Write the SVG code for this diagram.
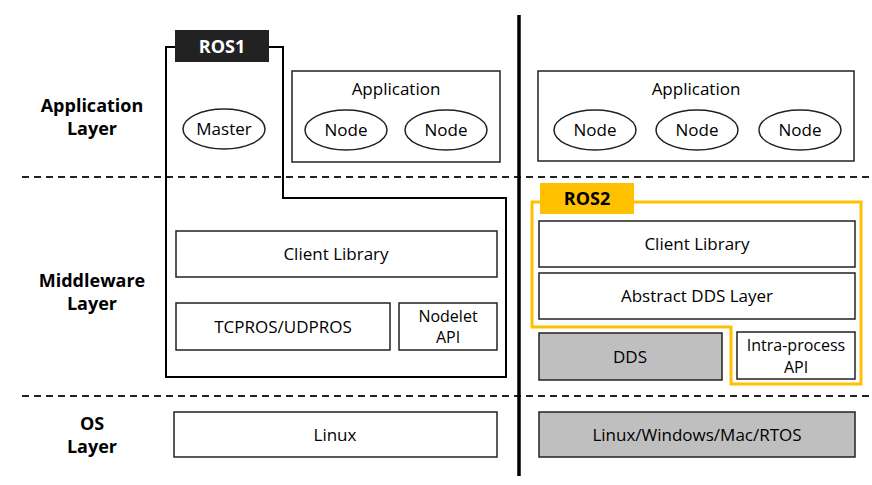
<svg xmlns="http://www.w3.org/2000/svg" width="872" height="485" viewBox="0 0 872 485">
<style>
text{font-family:"Open Sans","Liberation Sans",sans-serif;font-size:17px;text-anchor:middle;fill:#000}
.b{fill:#fff;stroke:#222;stroke-width:1.5}
.g{fill:#bfbfbf;stroke:#222;stroke-width:1.5}
.h{font-weight:bold;font-size:18px}
.d{stroke:#222;stroke-width:1.8;stroke-dasharray:7,5;fill:none}
</style>
<rect width="872" height="485" fill="#fff"/>
<g id="connectors">
<line class="d" x1="22" y1="177" x2="872" y2="177"/>
<line class="d" x1="22" y1="396" x2="872" y2="396"/>
<line x1="519" y1="15" x2="519" y2="476" stroke="#000" stroke-width="3.5"/>
</g>
<g id="layers">
<text class="h" x="92" y="112">Application</text><text class="h" x="92" y="135">Layer</text>
<text class="h" x="92" y="287">Middleware</text><text class="h" x="92" y="310">Layer</text>
<text class="h" x="92" y="430">OS</text><text class="h" x="92" y="453">Layer</text>
</g>
<g id="ros1">
<path d="M175 47H166V377H506V198H283V47H269" fill="none" stroke="#000" stroke-width="2"/>
<rect x="175" y="30" width="94" height="32" fill="#222"/>
<text x="222" y="53" class="h" style="fill:#fff">ROS1</text>
</g>
<g id="master"><ellipse class="b" cx="224" cy="129" rx="41" ry="20"/><text x="224" y="135">Master</text></g>
<g id="app1"><rect class="b" x="292" y="71" width="208" height="91"/><text x="396" y="95">Application</text>
<ellipse class="b" cx="346" cy="130" rx="41" ry="20"/><text x="346" y="136">Node</text>
<ellipse class="b" cx="446" cy="130" rx="41" ry="20"/><text x="446" y="136">Node</text></g>
<g id="cl1"><rect class="b" x="176" y="231" width="321" height="46"/><text x="336" y="260">Client Library</text></g>
<g id="tcp"><rect class="b" x="176" y="303" width="214" height="47"/><text x="283" y="333">TCPROS/UDPROS</text></g>
<g id="nodelet"><rect class="b" x="399" y="303" width="98" height="47"/><text x="448" y="322" style="font-size:16px">Nodelet</text><text x="448" y="343" style="font-size:16px">API</text></g>
<g id="linux1"><rect class="b" x="174" y="412" width="323" height="45"/><text x="335" y="441">Linux</text></g>
<g id="app2"><rect class="b" x="538" y="71" width="316" height="90"/><text x="696" y="95">Application</text>
<ellipse class="b" cx="595" cy="130" rx="41" ry="20"/><text x="595" y="136">Node</text>
<ellipse class="b" cx="697" cy="130" rx="41" ry="20"/><text x="697" y="136">Node</text>
<ellipse class="b" cx="800" cy="130" rx="41" ry="20"/><text x="800" y="136">Node</text></g>
<g id="ros2">
<path d="M540 202H532V327H731V384H861V202H634" fill="none" stroke="#FFC000" stroke-width="3"/>
<rect x="540" y="183" width="94" height="31" fill="#FFC000"/>
<text x="587" y="205" class="h">ROS2</text>
</g>
<g id="cl2"><rect class="b" x="539" y="221" width="316" height="46"/><text x="697" y="250">Client Library</text></g>
<g id="adl"><rect class="b" x="539" y="273" width="316" height="46"/><text x="697" y="302">Abstract DDS Layer</text></g>
<g id="dds"><rect class="g" x="539" y="333" width="183" height="47"/><text x="630" y="363">DDS</text></g>
<g id="intra"><rect class="b" x="737" y="332" width="118" height="47"/><text x="796" y="351" style="font-size:16px">Intra-process</text><text x="796" y="373" style="font-size:16px">API</text></g>
<g id="linux2"><rect class="g" x="539" y="412" width="316" height="45"/><text x="697" y="441">Linux/Windows/Mac/RTOS</text></g>
</svg>
